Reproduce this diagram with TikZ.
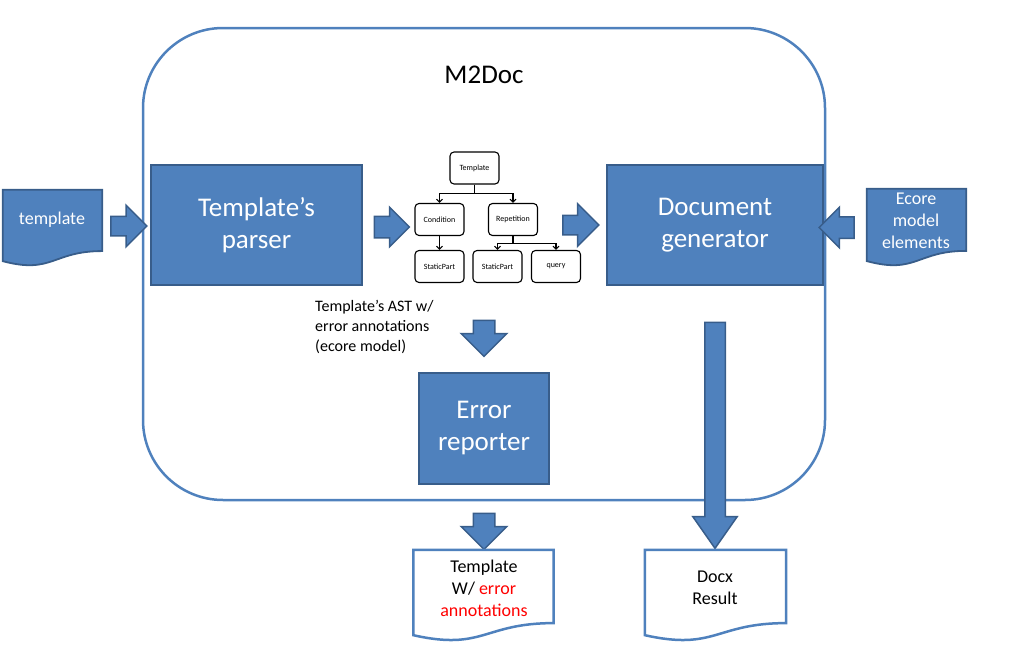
\documentclass[tikz,border=0pt]{standalone}
\usepackage{fontspec}
\setmainfont{Carlito}
\usetikzlibrary{shapes.arrows,calc,arrows.meta}
\definecolor{officeblue}{HTML}{4F81BD}
\definecolor{officeline}{HTML}{385D8A}

\begin{document}
\begin{tikzpicture}[x=1pt,y=-1pt,
  bigbox/.style={draw=officeline,fill=officeblue,line width=1.8pt,text=white,align=center,font=\fontsize{27}{32}\selectfont},
  blockarrow/.style={single arrow,draw=officeline,fill=officeblue,line width=1.5pt,inner xsep=0pt,single arrow head indent=0pt},
  treebox/.style={draw,rounded corners=4pt,line width=1.1pt,minimum width=49pt,minimum height=32pt,font=\fontsize{8}{9}\selectfont},
  treeedge/.style={line width=1.1pt,-{Straight Barb[length=3pt,width=6pt]}},
  docbox/.style={inner sep=0pt},
  doctext/.style={align=center,inner sep=0pt,font=\fontsize{18}{22}\selectfont}]
  \def\docshape#1#2{\draw[#2] (#1.north west) -- (#1.north east) -- ($(#1.north east)!.802!(#1.south east)$)
    .. controls ($(#1.north)!.802!(#1.south)$) and ($(#1.north)!1.107!(#1.south)$) .. ($(#1.north west)!.934!(#1.south west)$) -- cycle;}
  \useasboundingbox (0,0) rectangle (1010,656);

  % M2Doc container
  \node[draw=officeblue,line width=2.5pt,rounded corners=80pt,minimum width=682pt,minimum height=472pt] (m2doc) at (484,264) {};
  \node[font=\fontsize{27}{32}\selectfont] (title) at (484,75) {M2Doc};

  \node[bigbox,minimum width=211pt,minimum height=120pt] (parser) at (256.5,225) {Template’s\\parser};
  \node[bigbox,minimum width=216pt,minimum height=120pt] (generator) at (715,225) {Document\\generator};
  \node[bigbox,minimum width=130pt,minimum height=111pt] (reporter) at (484,428.5) {Error\\reporter};

  % AST tree
  \node[treebox] (tTpl) at (474.5,168) {Template};
  \node[treebox] (tCond) at (439.5,219.5) {Condition};
  \node[treebox] (tRep) at (513,219.5) {Repetition};
  \node[treebox] (tSP1) at (439.5,266.5) {StaticPart};
  \node[treebox] (tSP2) at (497.5,266.5) {StaticPart};
  \node[treebox] (tQry) at (556,266.5) {query};
  \foreach \k in {tCond,tRep}
    \draw[treeedge] (tTpl.south) -- ++(0,9) -| (\k.north);
  \draw[treeedge] (tCond) -- (tSP1);
  \foreach \k in {tSP2,tQry}
    \draw[treeedge] (tRep.south) -- ++(0,7) -| (\k.north);

  \node[anchor=west,align=left,inner sep=0pt,font=\fontsize{16}{20}\selectfont] (astText) at (315,327) {Template’s AST w/\\error annotations\\(ecore model)};

  % block arrows
  \node[blockarrow,minimum height=36pt,inner ysep=9pt,single arrow head extend=11pt] (inArrow) at (124,226) {};
  \node[blockarrow,minimum height=35pt,inner ysep=10pt,single arrow head extend=9pt] (astArrow) at (386.5,227) {};
  \node[blockarrow,minimum height=36pt,inner ysep=9pt,single arrow head extend=11.5pt] (genArrow) at (576,225) {};
  \node[blockarrow,minimum height=35pt,inner ysep=10pt,single arrow head extend=9.5pt,rotate=180] (ecoreArrow) at (842,227.5) {};
  \node[blockarrow,minimum height=36pt,inner ysep=10pt,single arrow head extend=12pt,rotate=-90] (errArrow) at (484,333) {};
  \node[blockarrow,minimum height=36pt,inner ysep=10pt,single arrow head extend=12pt,rotate=-90] (outArrow) at (484,526) {};
  \node[blockarrow,minimum height=226pt,inner ysep=9.5pt,single arrow head extend=12pt,single arrow tip angle=70,rotate=-90] (docxArrow) at (715,428) {};

  % documents
  \node[docbox,minimum width=99pt,minimum height=76pt] (tplIn) at (52.5,228) {};
  \docshape{tplIn}{draw=officeline,fill=officeblue,line width=1.8pt}
  \node[doctext,text=white] (tplInText) at (52,220) {template};

  \node[docbox,minimum width=99pt,minimum height=77pt] (ecoreIn) at (916.5,227.5) {};
  \docshape{ecoreIn}{draw=officeline,fill=officeblue,line width=1.8pt}
  \node[doctext,text=white] (ecoreText) at (916,221) {Ecore\\model\\elements};

  \node[docbox,minimum width=140pt,minimum height=91pt] (tplOut) at (483.5,595.5) {};
  \docshape{tplOut}{draw=officeblue,fill=white,line width=2.5pt}
  \node[doctext] (tplOutText) at (484,588) {Template\\W/ \textcolor{red}{error}\\\textcolor{red}{annotations}};

  \node[docbox,minimum width=141pt,minimum height=91pt] (docxOut) at (715.5,595.5) {};
  \docshape{docxOut}{draw=officeblue,fill=white,line width=2.5pt}
  \node[doctext] (docxText) at (715,588) {Docx\\Result};
\end{tikzpicture}
\end{document}
